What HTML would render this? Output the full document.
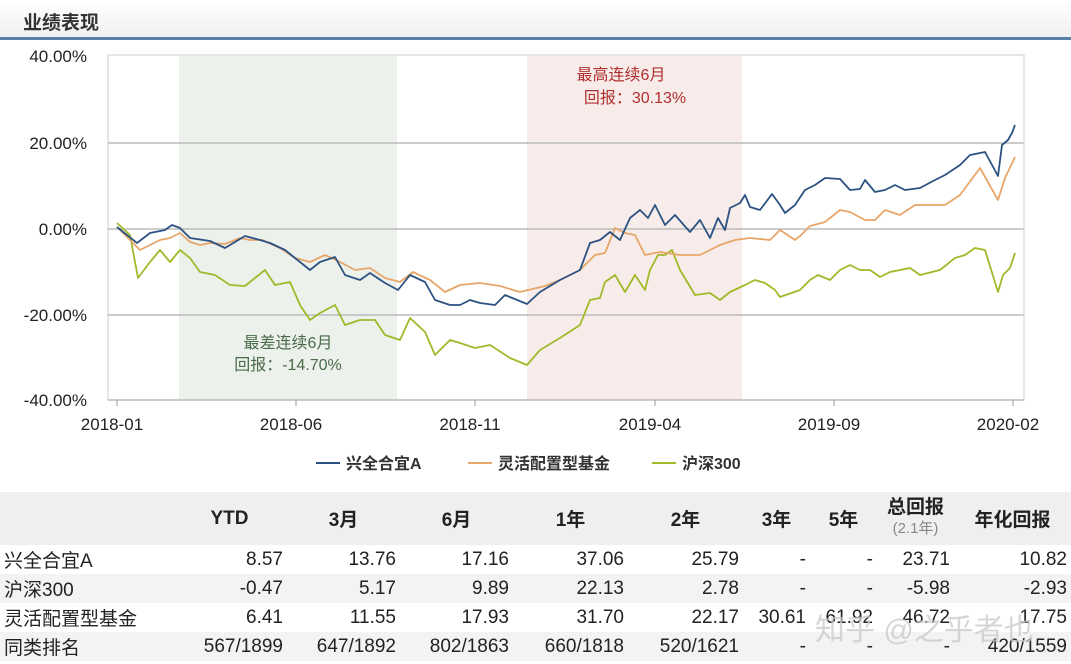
<!DOCTYPE html>
<html><head><meta charset="utf-8"><style>
body{margin:0;width:1071px;height:664px;background:#fff;font-family:"Liberation Sans","Noto Sans CJK SC",sans-serif;overflow:hidden;position:relative}
.hdr{position:absolute;left:0;top:0;width:1071px;height:37px;background:linear-gradient(#fff,#f0f0f0);border-bottom:3px solid #5a7fa8}
.hdr span{position:absolute;left:23px;top:8px;font-size:19px;font-weight:bold;color:#333}
table{position:absolute;left:0;top:492px;width:1071px;border-collapse:collapse;font-size:19px;color:#222}
td{padding:0 4px;text-align:right;height:29px}
td:first-child{text-align:left;padding-left:4px}
tr.h td{height:53px;background:#efefef;font-weight:bold;text-align:center;font-size:19px}
tr.g td{background:#f3f3f3}
.wm{position:absolute;left:815px;top:605px;font-size:30px;color:rgba(200,200,200,0.75)}
</style></head><body>
<div class="hdr"><span>业绩表现</span></div>
<svg width="1071" height="490" style="position:absolute;left:0;top:0" font-family="Liberation Sans, Noto Sans CJK SC, sans-serif">
<rect x="108" y="55" width="916" height="345" fill="#fff" stroke="#ccc"/>
<rect x="179" y="56" width="218" height="344" fill="#edf1ec"/>
<rect x="527" y="56" width="215" height="344" fill="#f8ecea"/>
<g stroke="#bbb" stroke-width="1.5"><line x1="108" x2="1024" y1="143" y2="143"/><line x1="108" x2="1024" y1="229" y2="229"/><line x1="108" x2="1024" y1="315" y2="315"/><line x1="108" x2="1024" y1="400" y2="400"/></g>
<line x1="1024" y1="55" x2="1024" y2="400" stroke="#ccc"/>
<g font-size="17" fill="#222" text-anchor="end"><text x="87" y="62">40.00%</text><text x="87" y="149">20.00%</text><text x="87" y="235">0.00%</text><text x="87" y="321">-20.00%</text><text x="87" y="406">-40.00%</text></g>
<g font-size="17" fill="#222" text-anchor="middle"><text x="112" y="430">2018-01</text><text x="291" y="430">2018-06</text><text x="470" y="430">2018-11</text><text x="650" y="430">2019-04</text><text x="829" y="430">2019-09</text><text x="1008" y="430">2020-02</text></g>
<g stroke="#999"><line x1="117" x2="117" y1="400" y2="406"/><line x1="296" x2="296" y1="400" y2="406"/><line x1="475" x2="475" y1="400" y2="406"/><line x1="655" x2="655" y1="400" y2="406"/><line x1="834" x2="834" y1="400" y2="406"/><line x1="1013" x2="1013" y1="400" y2="406"/></g>
<g font-size="16" text-anchor="middle"><text x="288" y="348" fill="#4a6a4a">最差连续6月</text><text x="288" y="370" fill="#4a6a4a">回报：-14.70%</text>
<text x="621" y="80" fill="#b03030">最高连续6月</text><text x="635" y="103" fill="#b03030">回报：30.13%</text></g>
<g fill="none" stroke-width="1.8" stroke-linejoin="round">
<polyline stroke="#9fba2a" points="117,223 130,235 138,278 150,262 160,250 170,262 180,250 190,258 200,272 215,275 230,285 245,286 255,278 265,270 275,285 290,282 300,305 310,320 320,313 335,305 345,325 360,320 375,320 385,335 400,340 410,318 425,332 435,355 450,340 460,343 475,348 490,345 510,358 527,365 540,350 560,338 580,325 590,300 600,298 605,282 615,275 625,292 635,275 645,290 650,270 658,255 665,255 672,250 680,270 695,295 710,293 720,300 730,292 745,285 755,280 765,283 775,290 780,297 800,290 810,280 818,275 830,280 840,270 850,265 860,270 870,270 880,277 890,272 900,270 910,268 920,275 940,270 955,258 965,255 975,248 985,250 998,292 1003,275 1010,268 1015,253"/>
<polyline stroke="#e8a66a" points="117,227 140,250 160,240 170,238 180,233 190,242 200,245 210,243 225,244 240,238 250,240 262,240 280,248 295,258 310,262 325,255 340,262 355,270 370,268 385,278 400,282 413,272 430,280 445,292 460,285 480,283 500,286 520,292 545,286 560,280 580,270 595,255 605,253 615,228 625,233 635,235 645,255 660,252 680,255 700,255 720,245 735,240 750,238 770,240 780,230 795,240 800,236 810,226 825,222 840,210 850,212 865,220 875,220 885,210 900,215 915,205 945,205 960,195 980,168 998,200 1005,178 1015,157"/>
<polyline stroke="#2c5282" points="117,227 137,243 150,233 165,230 172,225 180,228 190,238 210,241 225,248 230,245 245,236 260,240 270,243 285,250 300,262 310,270 320,262 335,257 345,275 360,280 370,273 385,283 398,290 410,275 425,282 435,300 450,305 460,305 470,300 480,303 495,305 505,295 527,304 540,292 560,280 580,270 590,243 600,240 610,232 620,240 630,218 640,210 648,218 655,205 665,225 675,215 690,232 700,220 710,238 718,218 725,230 730,208 740,203 745,195 750,207 760,210 772,194 780,205 785,213 795,205 805,190 815,185 825,178 840,179 850,190 860,189 865,180 875,192 885,190 895,185 905,190 920,188 935,180 945,175 960,165 970,155 985,152 998,176 1002,145 1008,140 1012,133 1015,125"/>
</g>
<g font-size="16" font-weight="bold" fill="#333">
<line x1="316" x2="340" y1="463" y2="463" stroke="#2c5282" stroke-width="2"/><text x="346" y="469">兴全合宜A</text>
<line x1="468" x2="492" y1="463" y2="463" stroke="#e8a66a" stroke-width="2"/><text x="498" y="469">灵活配置型基金</text>
<line x1="652" x2="676" y1="463" y2="463" stroke="#9fba2a" stroke-width="2"/><text x="682" y="469">沪深300</text>
</g>
</svg>
<table>
<tr class="h"><td style="width:164px"></td><td style="width:107px">YTD</td><td style="width:105px">3月</td><td style="width:105px">6月</td><td style="width:107px">1年</td><td style="width:107px">2年</td><td style="width:59px">3年</td><td style="width:59px">5年</td><td style="width:69px;line-height:20px">总回报<br><span style="font-weight:normal;color:#888;font-size:15px">(2.1年)</span></td><td>年化回报</td></tr>
<tr><td>兴全合宜A</td><td>8.57</td><td>13.76</td><td>17.16</td><td>37.06</td><td>25.79</td><td>-</td><td>-</td><td>23.71</td><td>10.82</td></tr>
<tr class="g"><td>沪深300</td><td>-0.47</td><td>5.17</td><td>9.89</td><td>22.13</td><td>2.78</td><td>-</td><td>-</td><td>-5.98</td><td>-2.93</td></tr>
<tr><td>灵活配置型基金</td><td>6.41</td><td>11.55</td><td>17.93</td><td>31.70</td><td>22.17</td><td>30.61</td><td>61.92</td><td>46.72</td><td>17.75</td></tr>
<tr class="g"><td>同类排名</td><td>567/1899</td><td>647/1892</td><td>802/1863</td><td>660/1818</td><td>520/1621</td><td>-</td><td>-</td><td>-</td><td>420/1559</td></tr>
</table>
<div class="wm">知乎 @之乎者也</div>
</body></html>
